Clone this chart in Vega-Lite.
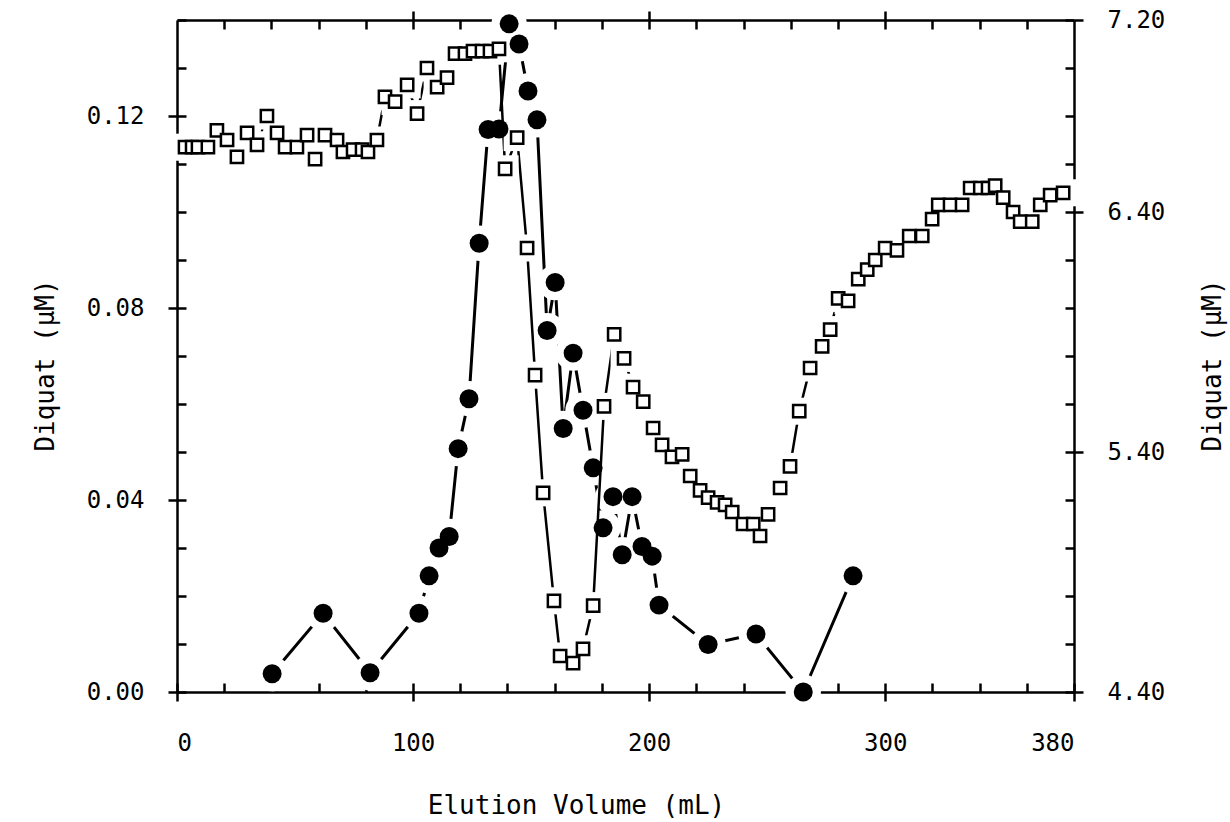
{
  "$schema": "https://vega.github.io/schema/vega-lite/v6.json",
  "width": 897,
  "height": 672,
  "autosize": {"type": "none"},
  "padding": {"left": 177, "top": 20, "right": 156, "bottom": 130},
  "background": "white",
  "datasets": {
    "squares": [
      {"volume": 3.4, "diquat": 6.67}, {"volume": 6.4, "diquat": 6.67}, {"volume": 8.9, "diquat": 6.67}, {"volume": 13.1, "diquat": 6.67},
      {"volume": 16.9, "diquat": 6.74}, {"volume": 21.2, "diquat": 6.70}, {"volume": 25.4, "diquat": 6.63}, {"volume": 29.7, "diquat": 6.73},
      {"volume": 33.9, "diquat": 6.68}, {"volume": 38.1, "diquat": 6.80}, {"volume": 42.4, "diquat": 6.73}, {"volume": 45.8, "diquat": 6.67},
      {"volume": 50.8, "diquat": 6.67}, {"volume": 55.1, "diquat": 6.72}, {"volume": 58.5, "diquat": 6.62}, {"volume": 62.7, "diquat": 6.72},
      {"volume": 67.8, "diquat": 6.70}, {"volume": 70.3, "diquat": 6.65}, {"volume": 74.6, "diquat": 6.66}, {"volume": 78.4, "diquat": 6.66},
      {"volume": 80.9, "diquat": 6.65}, {"volume": 84.7, "diquat": 6.70}, {"volume": 88.1, "diquat": 6.88}, {"volume": 92.4, "diquat": 6.86},
      {"volume": 97.5, "diquat": 6.93}, {"volume": 101.7, "diquat": 6.81}, {"volume": 105.9, "diquat": 7.00}, {"volume": 110.2, "diquat": 6.92},
      {"volume": 114.4, "diquat": 6.96}, {"volume": 117.8, "diquat": 7.06}, {"volume": 122.0, "diquat": 7.06}, {"volume": 125.4, "diquat": 7.07},
      {"volume": 129.2, "diquat": 7.07}, {"volume": 132.6, "diquat": 7.07}, {"volume": 136.4, "diquat": 7.08}, {"volume": 139.0, "diquat": 6.58},
      {"volume": 144.1, "diquat": 6.71}, {"volume": 148.3, "diquat": 6.25}, {"volume": 151.7, "diquat": 5.72}, {"volume": 155.1, "diquat": 5.23},
      {"volume": 159.7, "diquat": 4.78}, {"volume": 162.3, "diquat": 4.55}, {"volume": 167.8, "diquat": 4.52}, {"volume": 172.0, "diquat": 4.58},
      {"volume": 176.3, "diquat": 4.76}, {"volume": 180.9, "diquat": 5.59}, {"volume": 185.2, "diquat": 5.89}, {"volume": 189.4, "diquat": 5.79},
      {"volume": 193.2, "diquat": 5.67}, {"volume": 197.5, "diquat": 5.61}, {"volume": 201.7, "diquat": 5.50}, {"volume": 205.5, "diquat": 5.43},
      {"volume": 209.7, "diquat": 5.38}, {"volume": 214.0, "diquat": 5.39}, {"volume": 217.4, "diquat": 5.30}, {"volume": 221.6, "diquat": 5.24},
      {"volume": 225.0, "diquat": 5.21}, {"volume": 228.8, "diquat": 5.19}, {"volume": 232.2, "diquat": 5.18}, {"volume": 235.2, "diquat": 5.15},
      {"volume": 239.8, "diquat": 5.10}, {"volume": 244.1, "diquat": 5.10}, {"volume": 247.0, "diquat": 5.05}, {"volume": 250.4, "diquat": 5.14},
      {"volume": 255.5, "diquat": 5.25}, {"volume": 259.7, "diquat": 5.34}, {"volume": 263.6, "diquat": 5.57}, {"volume": 268.2, "diquat": 5.75},
      {"volume": 273.3, "diquat": 5.84}, {"volume": 276.7, "diquat": 5.91}, {"volume": 280.1, "diquat": 6.04}, {"volume": 284.3, "diquat": 6.03},
      {"volume": 288.6, "diquat": 6.12}, {"volume": 292.4, "diquat": 6.16}, {"volume": 295.8, "diquat": 6.20}, {"volume": 300.0, "diquat": 6.25},
      {"volume": 305.0, "diquat": 6.24}, {"volume": 310.2, "diquat": 6.30}, {"volume": 315.7, "diquat": 6.30}, {"volume": 319.9, "diquat": 6.37},
      {"volume": 322.5, "diquat": 6.43}, {"volume": 327.5, "diquat": 6.43}, {"volume": 332.6, "diquat": 6.43}, {"volume": 336.0, "diquat": 6.50},
      {"volume": 340.3, "diquat": 6.50}, {"volume": 343.6, "diquat": 6.50}, {"volume": 346.6, "diquat": 6.51}, {"volume": 350.0, "diquat": 6.46},
      {"volume": 354.2, "diquat": 6.40}, {"volume": 357.2, "diquat": 6.36}, {"volume": 362.3, "diquat": 6.36}, {"volume": 365.7, "diquat": 6.43},
      {"volume": 369.9, "diquat": 6.47}, {"volume": 375.4, "diquat": 6.48}
    ],
    "circles": [
      {"volume": 40.3, "diquat": 0.0038}, {"volume": 61.9, "diquat": 0.0164}, {"volume": 81.8, "diquat": 0.0040}, {"volume": 102.5, "diquat": 0.0164},
      {"volume": 106.8, "diquat": 0.0242}, {"volume": 111.0, "diquat": 0.0300}, {"volume": 115.3, "diquat": 0.0324}, {"volume": 119.1, "diquat": 0.0507},
      {"volume": 123.7, "diquat": 0.0611}, {"volume": 128.0, "diquat": 0.0935}, {"volume": 131.8, "diquat": 0.1172}, {"volume": 136.4, "diquat": 0.1173},
      {"volume": 140.7, "diquat": 0.1392}, {"volume": 144.9, "diquat": 0.1350}, {"volume": 148.7, "diquat": 0.1252}, {"volume": 152.5, "diquat": 0.1192},
      {"volume": 156.8, "diquat": 0.0753}, {"volume": 160.2, "diquat": 0.0853}, {"volume": 163.6, "diquat": 0.0549}, {"volume": 167.8, "diquat": 0.0706},
      {"volume": 172.0, "diquat": 0.0587}, {"volume": 176.3, "diquat": 0.0467}, {"volume": 180.5, "diquat": 0.0342}, {"volume": 184.7, "diquat": 0.0407},
      {"volume": 188.6, "diquat": 0.0286}, {"volume": 192.8, "diquat": 0.0407}, {"volume": 197.0, "diquat": 0.0303}, {"volume": 201.3, "diquat": 0.0283},
      {"volume": 204.2, "diquat": 0.0181}, {"volume": 225.0, "diquat": 0.0099}, {"volume": 245.3, "diquat": 0.0121}, {"volume": 265.3, "diquat": 0.0},
      {"volume": 286.4, "diquat": 0.0242}
    ]
  },
  "layer": [
    {
      "data": {"name": "circles"},
      "mark": {"type": "line", "color": "black", "strokeWidth": 3},
      "encoding": {
        "x": {"field": "volume", "type": "quantitative", "scale": {"domain": [0, 380], "nice": false, "zero": false}, "axis": null},
        "y": {"field": "diquat", "type": "quantitative", "scale": {"domain": [0, 0.14], "nice": false, "zero": false}, "axis": null}
      }
    },
    {
      "data": {"name": "circles"},
      "mark": {"type": "point", "shape": "circle", "filled": true, "fill": "white", "opacity": 1, "size": 1250},
      "encoding": {
        "x": {"field": "volume", "type": "quantitative", "scale": {"domain": [0, 380], "nice": false, "zero": false}, "axis": null},
        "y": {"field": "diquat", "type": "quantitative", "scale": {"domain": [0, 0.14], "nice": false, "zero": false}, "axis": null}
      }
    },
    {
      "data": {"name": "squares"},
      "mark": {"type": "line", "color": "black", "strokeWidth": 2.5},
      "encoding": {
        "x": {"field": "volume", "type": "quantitative", "scale": {"domain": [0, 380], "nice": false, "zero": false}, "axis": null},
        "y": {"field": "diquat", "type": "quantitative", "scale": {"domain": [4.4, 7.2], "nice": false, "zero": false}, "axis": null}
      }
    },
    {
      "data": {"name": "squares"},
      "mark": {"type": "point", "shape": "square", "filled": true, "fill": "white", "opacity": 1, "size": 730},
      "encoding": {
        "x": {"field": "volume", "type": "quantitative", "scale": {"domain": [0, 380], "nice": false, "zero": false}, "axis": null},
        "y": {"field": "diquat", "type": "quantitative", "scale": {"domain": [4.4, 7.2], "nice": false, "zero": false}, "axis": null}
      }
    },
    {
      "data": {"name": "squares"},
      "mark": {"type": "point", "shape": "square", "filled": true, "fill": "white", "stroke": "black", "strokeWidth": 2.5, "opacity": 1, "size": 150},
      "encoding": {
        "x": {"field": "volume", "type": "quantitative", "scale": {"domain": [0, 380], "nice": false, "zero": false},
          "axis": {"orient": "bottom", "title": "Elution Volume (mL)", "values": [0, 100, 200, 300, 380],
            "labelPadding": 30, "tickSize": 9,
            "titleX": 399, "titleY": 113, "titleBaseline": "middle", "titleAlign": "center"}},
        "y": {"field": "diquat", "type": "quantitative", "scale": {"domain": [4.4, 7.2], "nice": false, "zero": false},
          "axis": {"orient": "right", "title": "Diquat (µM)", "values": [4.4, 5.4, 6.4, 7.2], "format": ".2f",
            "labelPadding": 24, "labelFlush": false, "tickSize": 9,
            "titleAngle": 270, "titleX": 138, "titleY": 345, "titleBaseline": "middle", "titleAlign": "center"}}
      }
    },
    {
      "data": {"name": "circles"},
      "mark": {"type": "point", "shape": "circle", "filled": true, "fill": "black", "opacity": 1, "size": 360},
      "encoding": {
        "x": {"field": "volume", "type": "quantitative", "scale": {"domain": [0, 380], "nice": false, "zero": false},
          "axis": {"orient": "top", "title": null, "labels": false, "values": [100, 200, 300], "tickSize": 9}},
        "y": {"field": "diquat", "type": "quantitative", "scale": {"domain": [0, 0.14], "nice": false, "zero": false},
          "axis": {"orient": "left", "title": "Diquat (µM)", "values": [0, 0.04, 0.08, 0.12], "format": ".2f",
            "labelPadding": 24, "labelFlush": false, "tickSize": 9,
            "titleAngle": 270, "titleX": -132, "titleY": 345, "titleBaseline": "middle", "titleAlign": "center"}}
      }
    },
    {
      "data": {"name": "circles"},
      "mark": {"type": "point", "opacity": 0},
      "encoding": {
        "x": {"field": "volume", "type": "quantitative", "scale": {"domain": [0, 380], "nice": false, "zero": false},
          "axis": {"orient": "top", "offset": -672, "title": null, "labels": false, "domain": false, "tickSize": 9,
            "values": [0, 20, 40, 60, 80, 100, 120, 140, 160, 180, 200, 220, 240, 260, 280, 300, 320, 340, 360, 380]}},
        "y": {"field": "diquat", "type": "quantitative", "scale": {"domain": [0, 0.14], "nice": false, "zero": false},
          "axis": {"orient": "right", "offset": -897, "title": null, "labels": false, "domain": false, "tickSize": 9,
            "values": [0, 0.01, 0.02, 0.03, 0.04, 0.05, 0.06, 0.07, 0.08, 0.09, 0.1, 0.11, 0.12, 0.13, 0.14]}}
      }
    },
    {
      "data": {"name": "circles"},
      "mark": {"type": "point", "opacity": 0},
      "encoding": {
        "x": {"field": "volume", "type": "quantitative", "scale": {"domain": [0, 380], "nice": false, "zero": false},
          "axis": {"orient": "bottom", "offset": -672, "title": null, "labels": false, "domain": false, "tickSize": 9,
            "values": [20, 40, 60, 80, 100, 120, 140, 160, 180, 200, 220, 240, 260, 280, 300, 320, 340, 360]}},
        "y": {"field": "volume", "type": "quantitative", "scale": {"domain": [4.4, 7.2], "nice": false, "zero": false},
          "axis": {"orient": "left", "offset": -897, "title": null, "labels": false, "domain": false, "tickSize": 9,
            "values": [4.4, 4.6, 4.8, 5.0, 5.2, 5.4, 5.6, 5.8, 6.0, 6.2, 6.4, 6.6, 6.8, 7.0, 7.2]}}
      }
    }
  ],
  "resolve": {"scale": {"y": "independent"}, "axis": {"x": "independent", "y": "independent"}},
  "config": {
    "font": "DejaVu Sans Mono",
    "view": {"stroke": null},
    "mark": {"clip": false},
    "axis": {
      "grid": false,
      "domainColor": "black", "domainWidth": 2.5,
      "tickColor": "black", "tickWidth": 2.5,
      "labelFont": "DejaVu Sans Mono", "labelFontSize": 24, "labelColor": "black",
      "titleFont": "DejaVu Sans Mono", "titleFontSize": 26, "titleFontWeight": "normal", "titleColor": "black"
    }
  }
}
